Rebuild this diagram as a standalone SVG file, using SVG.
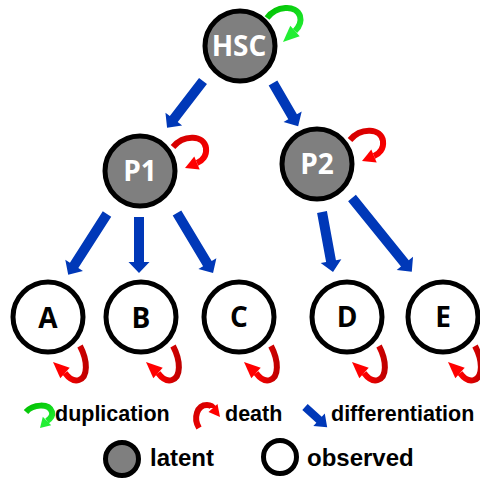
<svg xmlns="http://www.w3.org/2000/svg" width="480" height="480" viewBox="0 0 480 480">
<style>
.node circle{stroke:#000;stroke-width:5}
.latent circle{fill:#7f7f7f}
.observed circle{fill:#fff}
.lbl{font-family:"Open Sans","DejaVu Sans",sans-serif;font-weight:bold;font-size:28px;text-anchor:middle}
.latent .lbl{fill:#fff}
.observed .lbl{fill:#000}
.diff{fill:#0038b8}
.band{fill:none;stroke-width:6}
.leg{font-family:"Liberation Sans",Arial,sans-serif;font-weight:bold;fill:#000}
</style>
<defs>
<linearGradient id="gRedH" x1="0" y1="0" x2="1" y2="0"><stop offset="0" stop-color="#ff0000"/><stop offset="1" stop-color="#c00000"/></linearGradient>
<linearGradient id="gRedV" x1="0" y1="0" x2="1" y2="1"><stop offset="0" stop-color="#d00000"/><stop offset="1" stop-color="#ff0000"/></linearGradient>
<linearGradient id="gGreen" x1="0" y1="0" x2="1" y2="1"><stop offset="0" stop-color="#00c000"/><stop offset="1" stop-color="#22ee33"/></linearGradient>
<g id="deathUp">
<path class="band" stroke="url(#gRedV)" d="M33 -24 C44 -37 64 -36 66 -23 C67 -15 62 -10 57 -8"/>
<polygon fill="#ff0000" points="45,-3 59.7,-1.5 54.3,-14.5"/>
</g>
<g id="deathDown">
<path class="band" stroke="url(#gRedH)" d="M32 29 C40 44 40 60 31 63 C25 65 20 60 17 56"/>
<polygon fill="#ff0000" points="5,45 21.7,50.8 12.3,61.2"/>
</g>
</defs>

<g id="connectors">
<g id="differentiation">
<polygon class="diff" transform="translate(203,81) rotate(127.5)" points="0,-5 48,-5 48,-10.5 59,0 48,10.5 48,5 0,5"/>
<polygon class="diff" transform="translate(273,83) rotate(59.8)" points="0,-5 39,-5 39,-10.5 50,0 39,10.5 39,5 0,5"/>
<polygon class="diff" transform="translate(107,214) rotate(122.6)" points="0,-5 61,-5 61,-10.5 72,0 61,10.5 61,5 0,5"/>
<polygon class="diff" transform="translate(139,217) rotate(90)" points="0,-5 45,-5 45,-10.5 56,0 45,10.5 45,5 0,5"/>
<polygon class="diff" transform="translate(177,213) rotate(59)" points="0,-5 59,-5 59,-10.5 70,0 59,10.5 59,5 0,5"/>
<polygon class="diff" transform="translate(322,212) rotate(79.6)" points="0,-5 50,-5 50,-10.5 61,0 50,10.5 50,5 0,5"/>
<polygon class="diff" transform="translate(352,198) rotate(51)" points="0,-5 84,-5 84,-10.5 95,0 84,10.5 84,5 0,5"/>
</g>
<g id="loops">
<g transform="translate(240,46)">
<path class="band" stroke="url(#gGreen)" d="M27 -28 C36 -40 56 -42 60 -30 C62 -23 58 -18 55 -15"/>
<polygon fill="#22ee33" points="43,-4 59.7,-9.8 50.3,-20.2"/>
</g>
<use href="#deathUp" transform="translate(140,171)"/>
<use href="#deathUp" transform="translate(317,164)"/>
<use href="#deathDown" transform="translate(48,317)"/>
<use href="#deathDown" transform="translate(141,317)"/>
<use href="#deathDown" transform="translate(239,317)"/>
<use href="#deathDown" transform="translate(347,317)"/>
<use href="#deathDown" transform="translate(443,317)"/>
</g>
</g>

<g id="HSC" class="node latent"><circle cx="240" cy="46" r="35"/><text class="lbl" x="239" y="56">HSC</text></g>
<g id="P1" class="node latent"><circle cx="140" cy="171" r="35"/><text class="lbl" x="140" y="181">P1</text></g>
<g id="P2" class="node latent"><circle cx="317" cy="164" r="35"/><text class="lbl" x="317" y="174">P2</text></g>
<g id="A" class="node observed"><circle cx="48" cy="317" r="35"/><text class="lbl" x="48" y="328">A</text></g>
<g id="B" class="node observed"><circle cx="141" cy="317" r="35"/><text class="lbl" x="141" y="328">B</text></g>
<g id="C" class="node observed"><circle cx="239" cy="317" r="35"/><text class="lbl" x="239" y="327">C</text></g>
<g id="D" class="node observed"><circle cx="347" cy="317" r="35"/><text class="lbl" x="347" y="327">D</text></g>
<g id="E" class="node observed"><circle cx="443" cy="317" r="35"/><text class="lbl" x="443" y="327">E</text></g>

<g id="legend">
<path class="band" stroke="url(#gGreen)" d="M26 412 C33 404 49 403 52 412 C53 416 50 419 47 421"/>
<polygon fill="#22ee33" points="40,428 51.2,425.2 42.8,416.8"/>
<text class="leg" x="55" y="421" font-size="21.5">duplication</text>
<path class="band" stroke="url(#gRedV)" d="M199 428 C193 418 197 405 207 405 C211 405 213 407 213 408"/>
<polygon fill="#ff0000" points="220,417 217.5,404 208.5,412"/>
<text class="leg" x="225" y="421" font-size="21.5">death</text>
<polygon class="diff" transform="translate(305,407) rotate(42.3)" points="0,-4 19,-4 19,-8.5 30,0 19,8.5 19,4 0,4"/>
<text class="leg" x="331" y="421" font-size="21.5">differentiation</text>
<g class="node latent"><circle cx="122" cy="459" r="16.5"/></g>
<text class="leg" x="150" y="466" font-size="24">latent</text>
<g class="node observed"><circle cx="280" cy="457" r="16.5"/></g>
<text class="leg" x="307" y="466" font-size="24">observed</text>
</g>
</svg>
